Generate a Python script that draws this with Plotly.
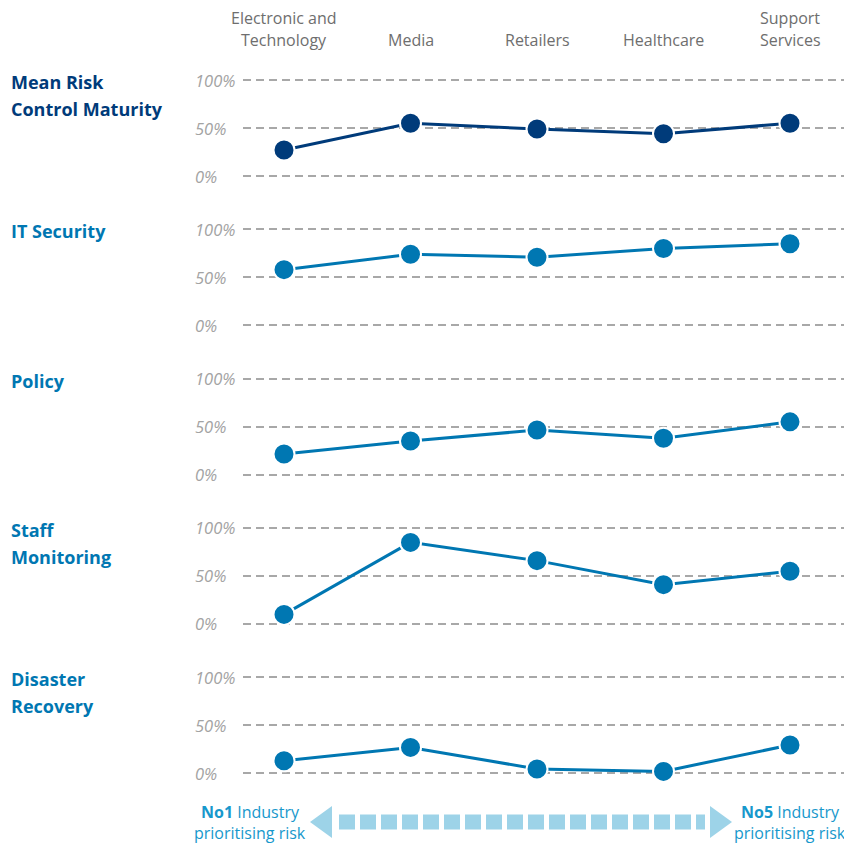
import plotly.graph_objects as go

# ---- data -------------------------------------------------------------
industries = ["Electronic and<br>Technology", "Media", "Retailers", "Healthcare", "Support<br>Services"]
panel_titles = [
    ["Mean Risk", "Control Maturity"],
    ["IT Security"],
    ["Policy"],
    ["Staff", "Monitoring"],
    ["Disaster", "Recovery"],
]
mean_risk_control = [27, 55, 49, 44, 55]
it_security = [58, 74, 71, 80, 85]
policy = [21.5, 35, 46.5, 38, 55]
staff_monitoring = [10, 85, 66, 41, 55]
disaster_recovery = [13, 27, 4.5, 2, 29.5]
series = [mean_risk_control, it_security, policy, staff_monitoring, disaster_recovery]
y_ticks = [0, 50, 100]
y_tick_text = ["0%", "50%", "100%"]

# ---- styling ----------------------------------------------------------
W = H = 844
FONT = "Open Sans"
NAVY = "#003b7a"
BLUE = "#0077b2"
GRID = "#a8a8a8"
CAT_GREY = "#6e6e6e"
TICK_GREY = "#a3a3a3"
ACCENT = "#1798cc"
ARROW = "#9dd3e8"
line_colors = [NAVY, BLUE, BLUE, BLUE, BLUE]


def py(px):
    """pixel row -> paper fraction"""
    return (H - px) / H


def px_x(px):
    return px / W


# vertical layout of panels (pixel rows of the 0% and 100% gridlines)
zero_rows = [176 + 149.33 * i for i in range(5)]
span = 96.0
pad = 2  # y-range padding (in %) so edge gridlines are drawn
x_left, x_right = 243, 844
x_first, x_step = 284, 126.5

fig = go.Figure()
layout = dict(
    width=W, height=H,
    margin=dict(l=0, r=0, t=0, b=0),
    paper_bgcolor="white", plot_bgcolor="white",
    showlegend=False,
    font=dict(family=FONT),
)

x_range = [(x_left - x_first) / x_step, (x_right - x_first) / x_step]
annotations = []

for i, vals in enumerate(series):
    n = "" if i == 0 else str(i + 1)
    z = zero_rows[i]
    top = z - span
    dom = [py(z + pad * span / 100), py(top - pad * span / 100)]
    layout[f"xaxis{n}"] = dict(
        domain=[px_x(x_left), 1], range=x_range, type="linear",
        showgrid=False, zeroline=False, showticklabels=False, showline=False,
        anchor=f"y{n}",
    )
    layout[f"yaxis{n}"] = dict(
        domain=dom, range=[-pad, 100 + pad],
        tickvals=y_ticks, showticklabels=False,
        showgrid=True, gridcolor=GRID, gridwidth=1.5, griddash="8px,5px",
        zeroline=False, showline=False, anchor=f"x{n}",
    )
    fig.add_trace(go.Scatter(
        x=list(range(len(industries))), y=vals,
        xaxis=f"x{n}", yaxis=f"y{n}",
        mode="lines+markers", cliponaxis=False,
        line=dict(color=line_colors[i], width=3),
        marker=dict(size=21, color=line_colors[i], line=dict(color="white", width=2)),
        hoverinfo="skip",
    ))
    # y tick labels, left aligned
    for v, t in zip(y_ticks, y_tick_text):
        annotations.append(dict(
            x=px_x(193), xref="paper", xanchor="left",
            y=v, yref=f"y{n}", yanchor="middle",
            text=t, showarrow=False,
            font=dict(family=FONT, size=16.5, color=TICK_GREY, style="italic"),
        ))
    # panel title lines
    for k, line in enumerate(panel_titles[i]):
        annotations.append(dict(
            x=px_x(9), xref="paper", xanchor="left",
            y=py(top + 2 + 27 * k), yref="paper", yanchor="middle",
            text=line, showarrow=False,
            font=dict(family=FONT, size=18, color=line_colors[i], weight="bold"),
        ))

# industry labels across the top
for j, name in enumerate(industries):
    lines = name.split("<br>")
    base = 40 - 22 * (len(lines) - 1)
    for k, line in enumerate(lines):
        annotations.append(dict(
            x=j, xref="x", xanchor="center",
            y=py(base + 22 * k), yref="paper", yanchor="middle",
            text=line, showarrow=False,
            font=dict(family=FONT, size=16, color=CAT_GREY),
        ))

# footer captions
for cx, label in [(250, "No1"), (790, "No5")]:
    annotations.append(dict(
        x=px_x(cx), xref="paper", xanchor="center",
        y=py(812), yref="paper", yanchor="middle",
        text=f"<b>{label}</b> Industry", showarrow=False,
        font=dict(family=FONT, size=16, color=ACCENT),
    ))
    annotations.append(dict(
        x=px_x(cx), xref="paper", xanchor="center",
        y=py(833), yref="paper", yanchor="middle",
        text="prioritising risk", showarrow=False,
        font=dict(family=FONT, size=16, color=ACCENT),
    ))

# double-headed dashed arrow
ay = 822
shapes = [
    dict(type="line", xref="paper", yref="paper",
         x0=px_x(339), x1=px_x(705), y0=py(ay), y1=py(ay),
         line=dict(color=ARROW, width=15, dash="16px,5px")),
    dict(type="path", xref="paper", yref="paper",
         path=f"M {px_x(310)},{py(ay)} L {px_x(332)},{py(ay - 16)} L {px_x(332)},{py(ay + 16)} Z",
         fillcolor=ARROW, line=dict(width=0)),
    dict(type="path", xref="paper", yref="paper",
         path=f"M {px_x(732)},{py(ay)} L {px_x(710)},{py(ay - 16)} L {px_x(710)},{py(ay + 16)} Z",
         fillcolor=ARROW, line=dict(width=0)),
]

layout["annotations"] = annotations
layout["shapes"] = shapes
fig.update_layout(**layout)
fig.write_html("out.html")
